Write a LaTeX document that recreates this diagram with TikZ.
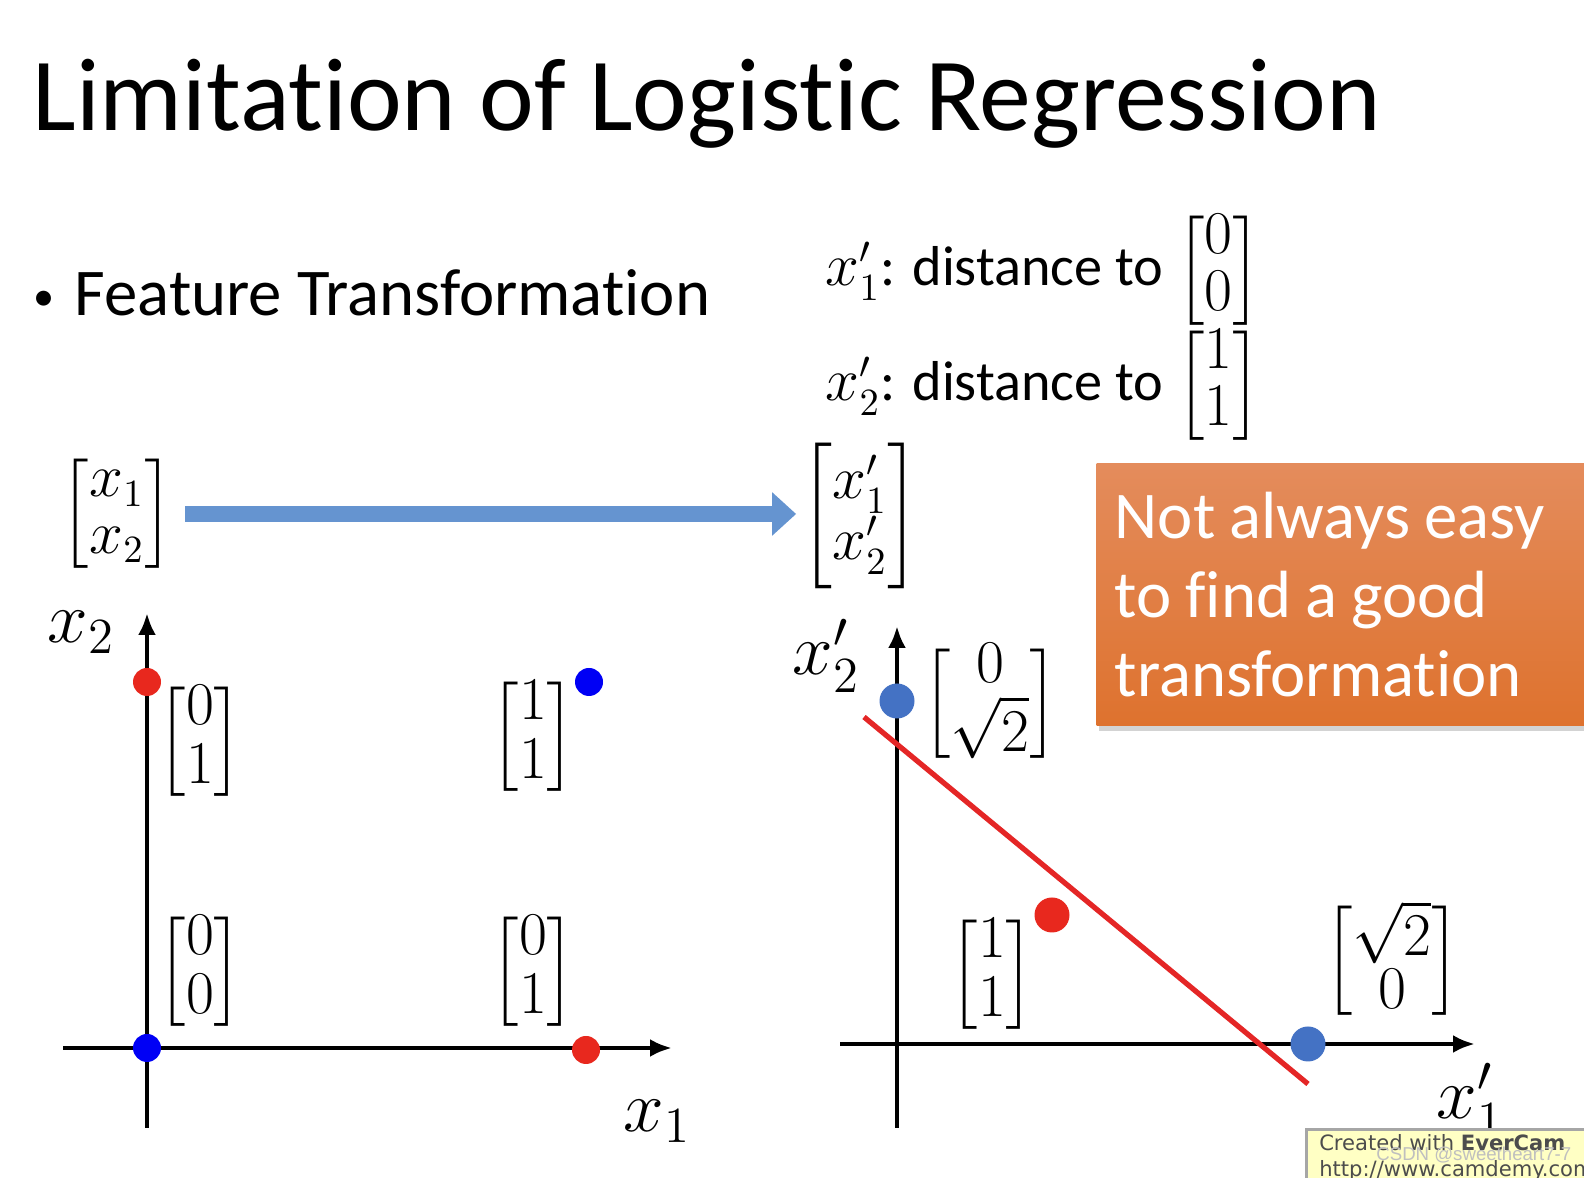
\documentclass[tikz,border=0pt]{standalone}
\usepackage[no-math]{fontspec}
\setmainfont{Carlito}[Ligatures={NoCommon}]
\newfontfamily\wmfont{DejaVu Sans}
\newfontfamily\csdnfont{Liberation Sans}
\usepackage{amsmath}
\usetikzlibrary{arrows.meta, positioning, shadows}
\usepackage{xcolor}

\definecolor{dotred}{RGB}{232,40,30}
\definecolor{dotblue}{RGB}{0,0,245}
\definecolor{softblue}{RGB}{68,114,196}
\definecolor{linered}{RGB}{228,38,38}
\definecolor{arrowblue}{RGB}{101,148,208}
\definecolor{boxtop}{RGB}{228,140,92}
\definecolor{boxbottom}{RGB}{222,114,46}
\definecolor{everyellow}{RGB}{255,255,196}

\newcommand{\colv}[2]{\left[\begin{matrix}#1\\#2\end{matrix}\right]}
\newcommand{\colvs}[2]{{\renewcommand{\arraystretch}{0.62}\left[\begin{matrix}#1\\#2\end{matrix}\right]}}
\renewcommand{\arraystretch}{0.85}

\begin{document}
\begin{tikzpicture}[
	title/.style={font=\fontsize{29.5}{35}\selectfont, anchor=base west, inner sep=0},
	bulletline/.style={font=\fontsize{19}{23}\selectfont, anchor=base west, inner sep=0},
	distline/.style={font=\fontsize{16}{19}\selectfont, anchor=base west, inner sep=0},
	vecnode/.style={font=\fontsize{16}{19}\selectfont},
	ptlabel/.style={font=\fontsize{16.5}{20}\selectfont, inner sep=0},
	axislabel/.style={font=\fontsize{22}{26}\selectfont, inner sep=0},
	dot/.style={circle, inner sep=0, minimum size=0.28cm},
	bigdot/.style={circle, inner sep=0, minimum size=0.35cm},
	axisline/.style={line width=1.4pt, -{Latex[length=2.2mm,width=1.8mm]}},
	sepline/.style={line width=1.5pt, linered},
	bigarrow/.style={line width=0.16cm, arrowblue, shorten >=-0.08cm, -{Triangle[length=0.24cm,width=0.42cm]}},
	notebox/.style={top color=boxtop, bottom color=boxbottom, text=white,
		font=\fontsize{19}{22.5}\selectfont, align=left, text width=4.6cm,
		execute at begin node={\spaceskip=0.21em\relax},
		minimum height=2.62cm, inner xsep=0.18cm,
		drop shadow={opacity=0.35, shadow xshift=0.02cm, shadow yshift=-0.05cm}},
	evercam/.style={fill=everyellow, draw=gray!70, line width=0.8pt, align=left,
		font=\wmfont\fontsize{6}{7.5}\selectfont, text=black!70,
		minimum width=3cm, inner sep=0.05cm},
	csdn/.style={font=\csdnfont\fontsize{5.3}{6}\selectfont, text=gray!50, inner sep=0}
]
	\useasboundingbox (0,0) rectangle (15.84,11.78);
	% Title and bullet
	\node[title] (title) at (0.32,10.47) {Limitation of Logistic Regression};
	\node[bulletline] (feat) at (0.33,8.62) {\raisebox{1.7pt}{\fontsize{12}{12}\selectfont\textbullet}\hspace{0.2cm}Feature Transformation};
	% New features
	\node[distline] (d1) at (8.25,8.92) {$x_1'$: distance to $\colv{0}{0}$};
	\node[distline] (d2) at (8.25,7.77) {$x_2'$: distance to $\colv{1}{1}$};
	% Transformation arrow
	\node[vecnode] (xin) at (1.17,6.64) {$\colv{x_1}{x_2}$};
	\node[vecnode] (xout) at (8.60,6.62) {${\renewcommand{\arraystretch}{0.88}\colv{x_1'}{x_2'}}$};
	\draw[bigarrow] (xin) -- (xin -| xout.west);
	% Remark
	\node[notebox, anchor=north west] (note) at (10.96,7.15) {Not always easy\\to find a good\\transformation};
	% Original space
	\coordinate (l-xmin) at (0.63,1.30);
	\coordinate (l-xmax) at (6.72,1.30);
	\coordinate (l-ymin) at (1.47,0.50);
	\coordinate (l-ymax) at (1.47,5.65);
	\draw[axisline] (l-xmin) -- (l-xmax);
	\draw[axisline] (l-ymin) -- (l-ymax);
	\node[axislabel] (lx2) at (0.81,5.46) {$x_2$};
	\node[axislabel] (lx1) at (6.57,0.57) {$x_1$};
	\node[dot, fill=dotred] (p01) at (1.47,4.96) {};
	\node[dot, fill=dotblue] (p11) at (5.89,4.96) {};
	\node[dot, fill=dotblue] (p00) at (1.47,1.30) {};
	\node[dot, fill=dotred] (p10) at (5.86,1.28) {};
	\node[ptlabel] (v01) at (2.00,4.36) {$\colv{0}{1}$};
	\node[ptlabel] (v11) at (5.33,4.41) {$\colv{1}{1}$};
	\node[ptlabel] (v00) at (2.00,2.06) {$\colv{0}{0}$};
	\node[ptlabel] (v10) at (5.33,2.06) {$\colv{0}{1}$};
	% Transformed space
	\coordinate (r-xmin) at (8.40,1.34);
	\coordinate (r-xmax) at (14.75,1.34);
	\coordinate (r-ymin) at (8.97,0.50);
	\coordinate (r-ymax) at (8.97,5.52);
	\draw[axisline] (r-xmin) -- (r-xmax);
	\draw[axisline] (r-ymin) -- (r-ymax);
	\node[axislabel] (rx2) at (8.26,5.22) {$x_2'$};
	\node[axislabel] (rx1) at (14.70,0.78) {$x_1'$};
	\coordinate (s1) at (8.64,4.61);
	\coordinate (s2) at (13.08,0.94);
	\draw[sepline] (s1) -- (s2);
	\node[bigdot, fill=softblue] (q01) at (8.97,4.77) {};
	\node[bigdot, fill=softblue] (q10) at (13.08,1.34) {};
	\node[bigdot, fill=dotred] (q11) at (10.52,2.63) {};
	\node[ptlabel] (w01) at (9.90,4.74) {$\colvs{0}{\sqrt{2}}$};
	\node[ptlabel] (w11) at (9.92,2.03) {$\colv{1}{1}$};
	\node[ptlabel] (w10) at (13.92,2.17) {$\colvs{\sqrt{2}}{0}$};
	% Watermarks
	\node[evercam, anchor=north west] (ever) at (13.05,0.50) {Created with \textbf{EverCam}\\http://www.camdemy.com};
	\node[csdn, anchor=base east] (mark) at (15.72,0.17) {CSDN @sweetheart7-7};
\end{tikzpicture}
\end{document}
